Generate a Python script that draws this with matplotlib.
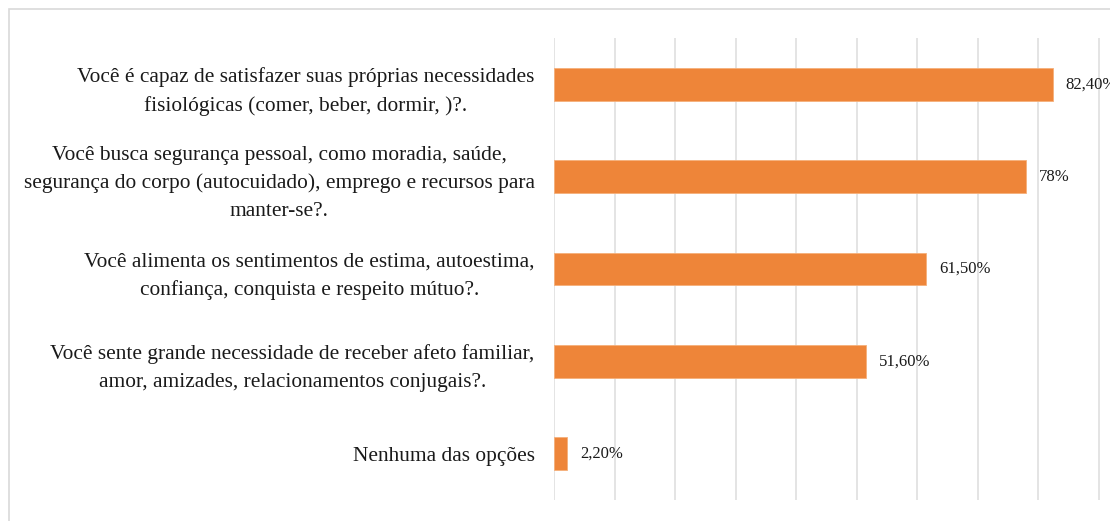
import matplotlib
matplotlib.use("Agg")
import matplotlib.pyplot as plt
from matplotlib.patches import Rectangle

categories = [
    "Você é capaz de satisfazer suas próprias necessidades\nfisiológicas (comer, beber, dormir, )?.",
    "Você busca segurança pessoal, como moradia, saúde,\nsegurança do corpo (autocuidado), emprego e recursos para\nmanter-se?.",
    "Você alimenta os sentimentos de estima, autoestima,\nconfiança, conquista e respeito mútuo?.",
    "Você sente grande necessidade de receber afeto familiar,\namor, amizades, relacionamentos conjugais?.",
    "Nenhuma das opções",
]
values = [82.4, 78.0, 61.5, 51.6, 2.2]
value_labels = ["82,40%", "78%", "61,50%", "51,60%", "2,20%"]
grid_ticks = [0, 10, 20, 30, 40, 50, 60, 70, 80, 90, 100]

plt.rcParams['font.family'] = ['Liberation Serif', 'DejaVu Serif']

W, H = 1110, 521
fig = plt.figure(figsize=(W / 100, H / 100), dpi=100)

# outer chart frame
fig.patches.append(Rectangle((8.5 / W, -0.05), 1.2, 1 - 9.5 / H + 0.05,
                             transform=fig.transFigure, fill=False,
                             edgecolor='#d9d9d9', linewidth=1.2))

x0, x1 = 554, 554 + 605.2
y0, y1 = 38, 500
ax = fig.add_axes([x0 / W, 1 - y1 / H, (x1 - x0) / W, (y1 - y0) / H])
ypos = list(range(len(categories)))
ax.barh(ypos, values, height=0.357, color='#EE8539', edgecolor='#F5B07A', linewidth=0.6, zorder=3)
ax.set_ylim(len(categories) - 0.5, -0.5)
ax.set_xlim(0, 100)
ax.set_xticks(grid_ticks)
ax.set_xticklabels([])
ax.tick_params(axis='x', length=0)
ax.tick_params(axis='y', length=0, pad=14)
ax.grid(axis='x', color='#dcdcdc', linewidth=1.1, zorder=0)
for s in ax.spines.values():
    s.set_visible(False)
ax.set_yticks(ypos)
ax.set_yticklabels(categories, fontsize=15.4, color='#1a1a1a', linespacing=1.6)
for t in ax.get_yticklabels():
    t.set_multialignment('center')

for y, v, lab in zip(ypos, values, value_labels):
    ax.annotate(lab, xy=(v, y), xytext=(9.4, 0), textcoords='offset points',
                va='center', ha='left', fontsize=12, color='#1a1a1a',
                annotation_clip=False)

fig.savefig("out.png", dpi=100, facecolor='white')
